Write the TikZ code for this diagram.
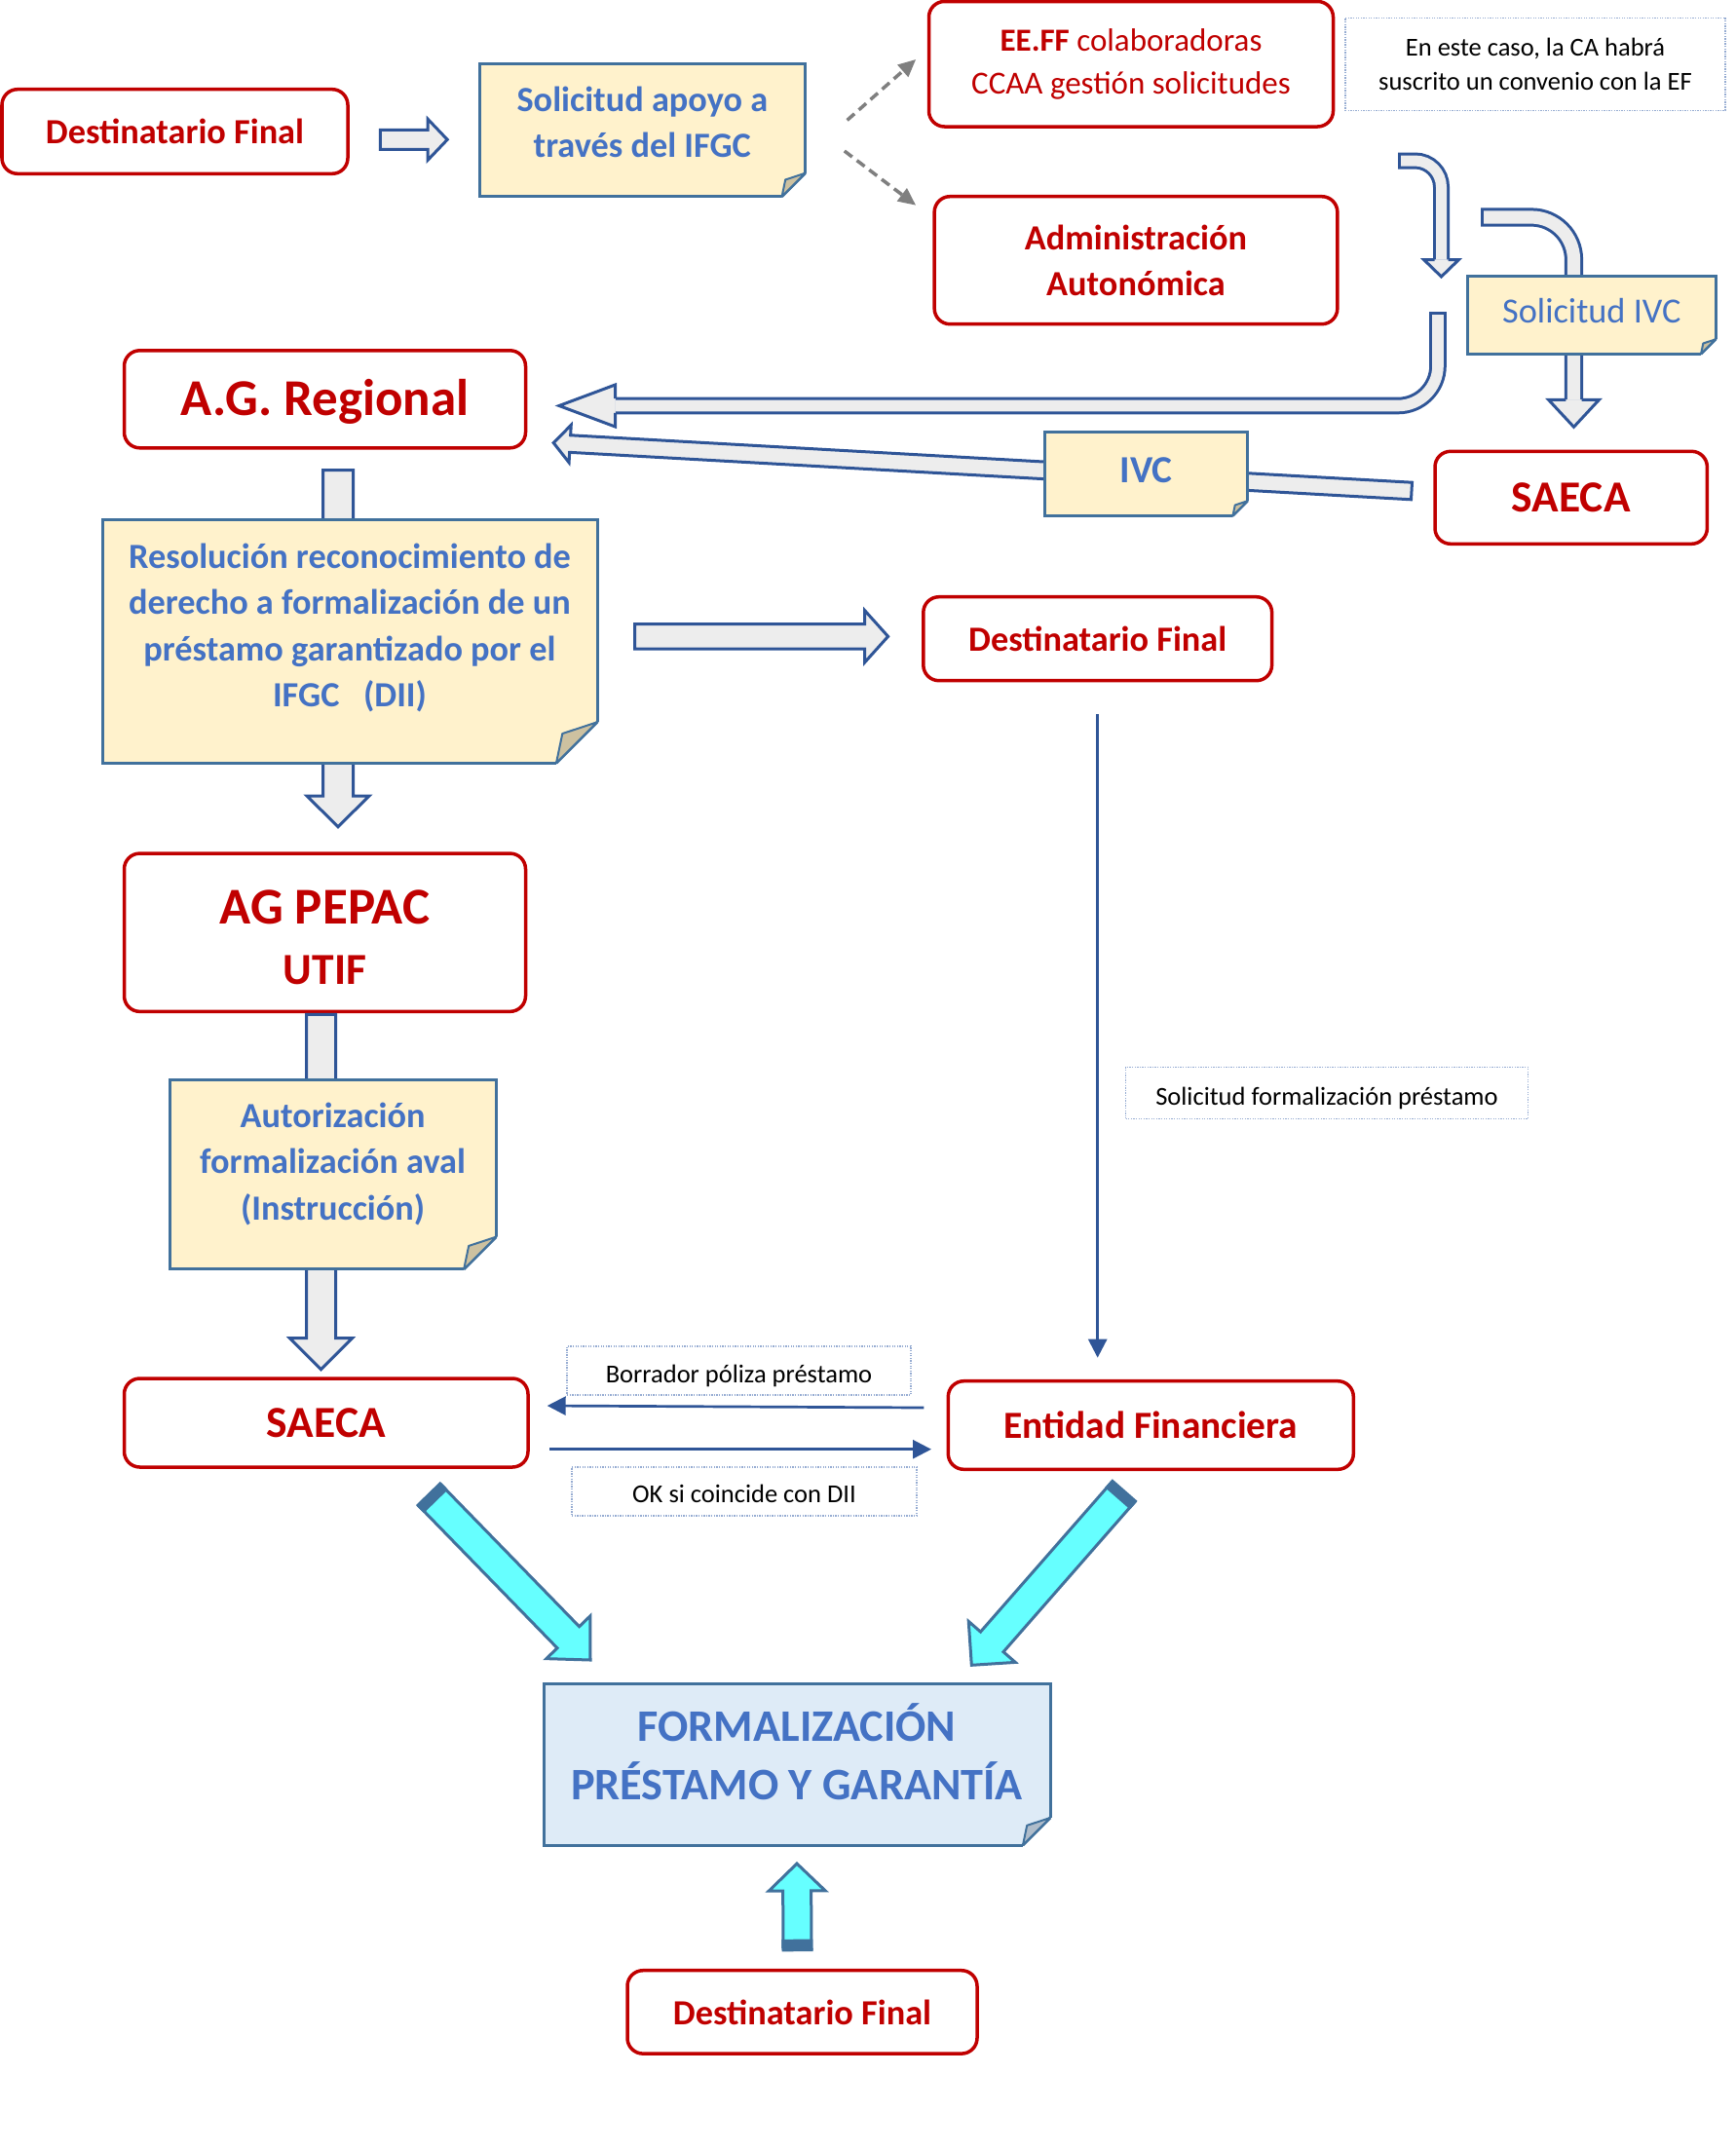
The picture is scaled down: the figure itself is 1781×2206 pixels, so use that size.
\documentclass[tikz,border=0pt]{standalone}
\usepackage{fontspec}
\setmainfont{Carlito}
\usetikzlibrary{arrows.meta}
\usetikzlibrary{calc}

\definecolor{boxred}{RGB}{192,0,0}
\definecolor{textblue}{RGB}{68,114,196}
\definecolor{noteline}{RGB}{65,113,156}
\definecolor{notefill}{RGB}{255,242,204}
\definecolor{notefold}{RGB}{205,193,160}
\definecolor{formfill}{RGB}{222,235,247}
\definecolor{formfold}{RGB}{175,188,202}
\definecolor{arrowline}{RGB}{47,85,151}
\definecolor{arrowfill}{RGB}{237,237,237}
\definecolor{cyanfill}{RGB}{102,255,255}
\definecolor{capblue}{RGB}{65,113,156}
\definecolor{dashgray}{RGB}{127,127,127}
\definecolor{dotline}{RGB}{150,172,210}

\newcommand{\szbig}{\fontsize{53}{62.4}\selectfont}
\newcommand{\szmid}{\fontsize{45.5}{55}\selectfont}
\newcommand{\szform}{\fontsize{46.3}{59.7}\selectfont}
\newcommand{\szef}{\fontsize{39.4}{46}\selectfont}
\newcommand{\szbase}{\fontsize{36.3}{47.5}\selectfont}
\newcommand{\szee}{\fontsize{33}{43.4}\selectfont}
\newcommand{\szsmall}{\fontsize{26.5}{34.3}\selectfont}

\tikzstyle{redbox} = [draw=boxred, line width=3.5pt, rounded corners=16pt, fill=white, text=boxred, align=center, inner sep=0pt, outer sep=0pt]
\tikzstyle{note} = [draw=noteline, line width=3pt, fill=notefill, inner sep=0pt, outer sep=0pt]
\tikzstyle{notetext} = [text=textblue, align=center, inner sep=0pt]
\tikzstyle{dotbox} = [draw=dotline, line width=1.3pt, dash pattern=on 1.3pt off 1.3pt, font=\szsmall, align=center, inner sep=0pt, outer sep=0pt]
\tikzstyle{blockarrow} = [draw=arrowline, fill=arrowfill, line width=3pt]
\tikzstyle{cyanarrow} = [draw=capblue, fill=cyanfill, line width=3pt]
\tikzstyle{thinarrow} = [draw=arrowline, line width=2.7pt, -{Triangle[length=19pt,width=19pt]}]
\tikzstyle{dasharrow} = [draw=dashgray, line width=3.5pt, dash pattern=on 10pt off 6pt, -{Triangle[length=18pt,width=16pt]}]

% straight block arrow: [style]{tail}{tip}{shaft half width}{head half width}{head length}
\newcommand{\blockarrow}[6][blockarrow]{%
  \coordinate (ba-s) at (#2);
  \coordinate (ba-t) at (#3);
  \coordinate (ba-c) at ($(ba-t)!#6pt!(ba-s)$);
  \draw[#1] ($(ba-s)!#4pt!90:(ba-t)$) -- ($(ba-c)!#4pt!-90:(ba-s)$) -- ($(ba-c)!#5pt!-90:(ba-s)$) -- (ba-t)
    -- ($(ba-c)!#5pt!90:(ba-s)$) -- ($(ba-c)!#4pt!90:(ba-s)$) -- ($(ba-s)!#4pt!-90:(ba-t)$) -- cycle;
}
% bent block arrow: {tail}{bend}{tip}{shaft half width}{head half width}{head length}{radius}
\newcommand{\bentarrow}[7]{%
  \coordinate (bt-a) at (#1);
  \coordinate (bt-b) at (#2);
  \coordinate (bt-t) at (#3);
  \coordinate (bt-c) at ($(bt-t)!#6pt!(bt-b)$);
  \draw[arrowline, line width=2*#4pt, rounded corners=#7pt] (bt-a) -- (bt-b) -- (bt-c);
  \draw[arrowfill, line width=2*#4pt-6pt, rounded corners=#7pt] ($(bt-a)!3pt!(bt-b)$) -- (bt-b) -- (bt-c);
  \draw[blockarrow] ($(bt-c)!#4pt-1.5pt!90:(bt-t)$) -- ($(bt-c)!#5pt!90:(bt-t)$) -- (bt-t)
    -- ($(bt-c)!#5pt!-90:(bt-t)$) -- ($(bt-c)!#4pt-1.5pt!-90:(bt-t)$);
}
% dark end of a cyan arrow: {tail}{tip}{half width}{length}
\newcommand{\captail}[4]{%
  \coordinate (cp-s) at (#1);
  \coordinate (cp-t) at (#2);
  \coordinate (cp-a) at ($(cp-s)!#4pt!(cp-t)$);
  \fill[capblue] ($(cp-s)!#3pt+1.5pt!90:(cp-t)$) -- ($(cp-s)!#3pt+1.5pt!-90:(cp-t)$)
    -- ($(cp-a)!#3pt+1.5pt!90:(cp-s)$) -- ($(cp-a)!#3pt+1.5pt!-90:(cp-s)$) -- cycle;
}
% folded corner of a note: {node}{size}{fold colour}
\newcommand{\foldcorner}[3]{%
  \fill[white] ($(#1.south east)+(0,-#2)$) -- ($(#1.south east)+(4,-#2)$) -- ($(#1.south east)+(4,4)$)
    -- ($(#1.south east)+(-#2,4)$) -- ($(#1.south east)+(-#2,0)$) -- cycle;
  \draw[noteline, line width=3pt] ($(#1.south east)+(0,-#2)$) -- ($(#1.south east)+(-#2,0)$);
  \filldraw[fill=#3, draw=noteline, line width=2pt, line join=round] ($(#1.south east)+(0,-#2)$)
    -- ($(#1.south east)+(-0.85*#2,-0.72*#2)$) -- ($(#1.south east)+(-#2,0)$) -- cycle;
}

\begin{document}
\begin{tikzpicture}[x=1pt, y=-1pt]
\useasboundingbox (0,0) rectangle (1781,2206);

% boxes
\node[redbox, font=\bfseries\szbase, minimum width=355pt, minimum height=86.6pt] (df1) at (179.5,135) {Destinatario Final};
\node[redbox, font=\szee, minimum width=415pt, minimum height=128.5pt] (eeff) at (1161,65.75) {\textbf{EE.FF} colaboradoras\\CCAA gestión solicitudes};
\node[redbox, font=\bfseries\szbase, minimum width=413.7pt, minimum height=131pt] (admin) at (1166,267.2) {Administración\\Autonómica};
\node[dotbox, minimum width=390pt, minimum height=95pt] (convenio) at (1576,65.8) {En este caso, la CA habrá\\suscrito un convenio con la EF};
\node[redbox, font=\bfseries\szbig, text height=33.4pt, text depth=0pt, minimum width=412pt, minimum height=100pt] (agr) at (333.5,409.8) {A.G. Regional};
\node[redbox, font=\bfseries\szmid, minimum width=279.4pt, minimum height=95pt] (saeca1) at (1612.7,510.8) {SAECA};
\node[redbox, font=\bfseries\szbase, minimum width=357.8pt, minimum height=86pt] (df2) at (1126.7,655.7) {Destinatario Final};
\node[redbox, font=\bfseries\szbig, minimum width=412pt, minimum height=162.3pt] (pepac) at (333.5,957.2) {\rule{0pt}{45pt}AG PEPAC\\{\szmid UTIF}};
\node[dotbox, text height=24.4pt, text depth=0pt, minimum width=413pt, minimum height=52.8pt] (solform) at (1362,1121.8) {Solicitud formalización préstamo};
\node[redbox, font=\bfseries\szmid, minimum width=414.5pt, minimum height=91pt] (saeca2) at (334.75,1460.5) {SAECA};
\node[redbox, font=\bfseries\szef, minimum width=416pt, minimum height=90.6pt] (ef) at (1181.3,1463) {Entidad Financiera};
\node[dotbox, text height=25pt, text depth=0pt, minimum width=353pt, minimum height=50pt] (borrador) at (758.5,1407) {Borrador póliza préstamo};
\node[dotbox, text height=22.6pt, text depth=0pt, minimum width=354pt, minimum height=50pt] (okdii) at (764,1531) {OK si coincide con DII};
\node[redbox, font=\bfseries\szbase, minimum width=359pt, minimum height=85.4pt] (df3) at (823.5,2065.4) {Destinatario Final};

% block arrows that run behind the notes
\blockarrow{$(agr.south)+(13.5,22.8)$}{$(pepac.north)+(13.5,-27.4)$}{15.5}{32}{31.6}
\blockarrow{$(pepac.south)+(-4,3)$}{$(saeca2.north)+(-5.25,-9.3)$}{15}{32}{32}
\blockarrow{$(saeca1.west)+(-24,-6.8)$}{$(agr.south east)+(28.7,-5.2)$}{8.8}{19.3}{17}
\coordinate (ivc-tail) at (1520,223);
\coordinate (ivc-bend) at (1615.5,223);
\bentarrow{ivc-tail}{ivc-bend}{$(saeca1.north)+(2.8,-25)$}{9.6}{26}{28}{43.5}

% notes
\node[note, minimum width=334.6pt, minimum height=136.7pt] (sol) at (659.3,133.4) {};
\foldcorner{sol}{24}{notefold}
\node[notetext, font=\bfseries\szbase] (sol-t) at ($(sol)+(0,-8)$) {Solicitud apoyo a\\través del IFGC};

\node[note, minimum width=254.3pt, minimum height=80pt] (sivc) at (1633.9,323.3) {};
\foldcorner{sivc}{15}{notefold}
\node[notetext, font=\szbase] (sivc-t) at ($(sivc)+(0,-4)$) {Solicitud IVC};

\node[note, minimum width=208pt, minimum height=86pt] (ivc) at (1176.5,486.3) {};
\foldcorner{ivc}{15}{notefold}
\node[notetext, font=\bfseries\szef] (ivc-t) at ($(ivc)+(0,-3.5)$) {IVC};

\node[note, minimum width=508pt, minimum height=249.8pt] (res) at (359,658.4) {};
\foldcorner{res}{42}{notefold}
\node[notetext, font=\bfseries\szbase] (res-t) at ($(res)+(0,-14)$) {Resolución reconocimiento de\\derecho a formalización de un\\préstamo garantizado por el\\IFGC~~~(DII)};

\node[note, minimum width=335.2pt, minimum height=194.4pt] (autor) at (341.6,1205.5) {};
\foldcorner{autor}{33}{notefold}
\node[notetext, font=\bfseries\szbase] (autor-t) at ($(autor)+(0,-11)$) {Autorización\\formalización aval\\(Instrucción)};

\node[note, fill=formfill, minimum width=520pt, minimum height=166pt] (form) at (818,1811) {};
\foldcorner{form}{28}{formfold}
\node[notetext, font=\bfseries\szform] (form-t) at ($(form)+(0,-13)$) {FORMALIZACIÓN\\PRÉSTAMO Y GARANTÍA};

% remaining arrows
\blockarrow{$(df1.east)+(33.4,8.3)$}{$(sol.west)+(-32.8,9.9)$}{10}{21}{20}
\draw[dasharrow] ($(sol.east)+(43,-10)$) -- ($(eeff.west)+(-13.3,-4.8)$);
\draw[dasharrow] ($(sol.east)+(40.2,21.6)$) -- ($(admin.north west)+(-19,9)$);
\coordinate (ca-tail) at (1435,165);
\coordinate (ca-bend) at (1479.5,165);
\coordinate (ca-tip) at (1479.5,284);
\bentarrow{ca-tail}{ca-bend}{ca-tip}{8.5}{17.8}{17.3}{27}
\coordinate (reg-tail) at (1476,320);
\coordinate (reg-bend) at (1476,416.5);
\bentarrow{reg-tail}{reg-bend}{$(agr.east)+(34.4,6.7)$}{8.8}{21.5}{57.6}{41}
\blockarrow{$(res.east)+(38.6,-5.1)$}{$(df2.west)+(-36.2,-2.4)$}{12.8}{26.7}{24}
\draw[thinarrow] ($(df2.south)+(0,34.3)$) -- ($(df2.south |- ef.north)+(0,-24)$);
\draw[thinarrow] ($(ef.west)+(-25,-18)$) -- ($(saeca2.east)+(19.7,-17.5)$);
\draw[thinarrow] ($(saeca2.east)+(22,27.2)$) -- ($(ef.west)+(-17.3,24.7)$);

% cyan arrows into the formalisation
\coordinate (cl-s) at ($(saeca2.south)+(105.7,28)$);
\coordinate (cl-t) at ($(form.north west)+(48,-24)$);
\blockarrow[cyanarrow]{cl-s}{cl-t}{15.8}{31.4}{32.5}
\captail{cl-s}{cl-t}{15.8}{10}
\coordinate (cr-s) at ($(ef.south)+(-27.6,22.4)$);
\coordinate (cr-t) at ($(form.north east)+(-80.7,-18.7)$);
\blockarrow[cyanarrow]{cr-s}{cr-t}{15.6}{31.9}{31.8}
\captail{cr-s}{cr-t}{15.6}{10}
\coordinate (cu-s) at ($(df3.north)+(-5,-21)$);
\coordinate (cu-t) at ($(form.south)+(0,19)$);
\blockarrow[cyanarrow]{cu-s}{cu-t}{14.5}{29}{28}
\captail{cu-s}{cu-t}{14.5}{11}
\end{tikzpicture}
\end{document}
